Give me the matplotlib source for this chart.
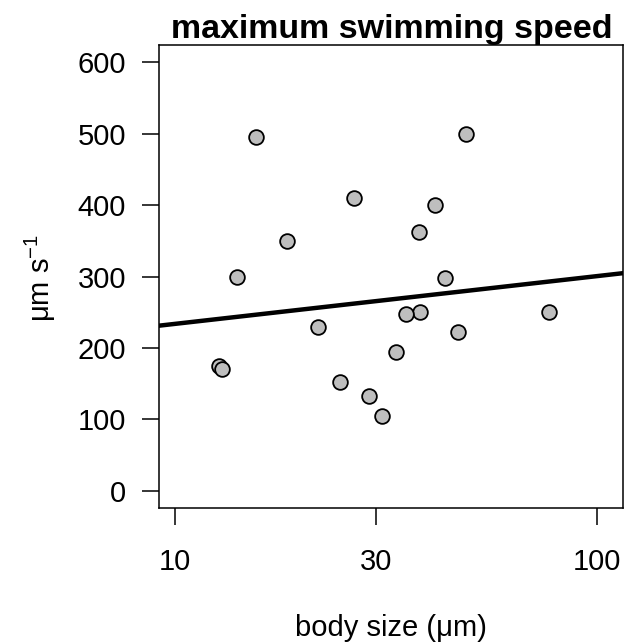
import matplotlib as mpl
mpl.use('Agg')
import matplotlib.pyplot as plt
import numpy as np

# data
body_size = [15.6, 49.0, 26.5, 41.4, 37.9, 18.4, 14.0, 43.7, 77.1, 38.1,
             35.2, 21.8, 46.8, 33.4, 12.7, 12.9, 24.6, 28.8, 30.9]
speed = [495, 500, 410, 400, 362, 350, 299, 298, 250, 250,
         247, 230, 222, 194, 175, 171, 153, 133, 105]

# regression line: speed = intercept + slope * log10(body size)
intercept = 166.9
slope = 66.8

x_ticks = [10, 30, 100]
y_ticks = [0, 100, 200, 300, 400, 500, 600]

plt.rcParams['font.family'] = ['Liberation Sans', 'DejaVu Sans']
plt.rcParams['mathtext.fontset'] = 'custom'
plt.rcParams['mathtext.rm'] = 'Liberation Sans'
plt.rcParams['mathtext.it'] = 'Liberation Sans'

fig = plt.figure(figsize=(6.33, 6.44), dpi=100)
ax = fig.add_axes([0.2517, 0.2112, 0.733, 0.7189])

ax.set_xscale('log')
ax.set_xlim(9.18, 115.6)
ax.set_ylim(-24, 624)

xl = np.log10(ax.get_xlim())
xs = np.logspace(xl[0], xl[1], 50)
ax.plot(xs, intercept + slope * np.log10(xs), color='black', lw=3.2, zorder=2)

ax.scatter(body_size, speed, s=112, facecolor='#BEBEBE', edgecolor='black',
           linewidths=1.3, zorder=3, clip_on=False)

ax.xaxis.set_major_locator(mpl.ticker.FixedLocator(x_ticks))
ax.xaxis.set_minor_locator(mpl.ticker.NullLocator())
ax.set_xticklabels([str(t) for t in x_ticks])
ax.set_yticks(y_ticks)
ax.tick_params(axis='both', direction='out', length=12, width=1.1,
               labelsize=21, colors='black')
ax.tick_params(axis='x', pad=17)
ax.tick_params(axis='y', pad=12)
for s in ax.spines.values():
    s.set_linewidth(1.1)

ax.set_title('maximum swimming speed', fontsize=24.5, fontweight='bold', pad=1)
fig.text(391 / 633, 1 - 628 / 644, 'body size (\u03bcm)', fontsize=21,
         ha='center', va='center')
fig.text(40 / 633, 1 - 278 / 644, '\u03bcm s$^{-1}$', fontsize=21,
         ha='center', va='center', rotation=90)

plt.savefig('out.png', dpi=100)
